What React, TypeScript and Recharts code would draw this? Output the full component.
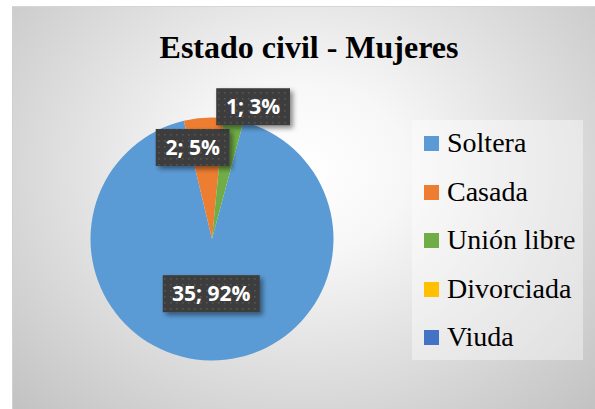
import React from 'react';
import { PieChart, Pie, Cell, Legend } from 'recharts';

const categories = ['Soltera', 'Casada', 'Unión libre', 'Divorciada', 'Viuda'];
const counts = [35, 2, 1, 0, 0];
const colors = ['#5B9BD5', '#ED7D31', '#70AD47', '#FFC000', '#4472C4'];
const title = 'Estado civil - Mujeres';

const data = categories.map((name, i) => ({ name, value: counts[i] }));

const W = 595;
const H = 409;
const RAD = Math.PI / 180;
const SERIF = '"Liberation Serif", "Times New Roman", Times, serif';

// label placement relative to each slice (radius factor, angular offset in degrees ccw)
const LABEL_LAYOUT = [
  { rf: 0.45, da: 0 },
  { rf: 0.77, da: 8 },
  { rf: 1.14, da: -7 },
  { rf: 1, da: 0 },
  { rf: 1, da: 0 },
];

const charW = (c: string) => {
  if (/[0-9]/.test(c)) return 11.6;
  if (c === ';') return 5.6;
  if (c === ' ') return 5.4;
  if (c === '%') return 17.6;
  return 11;
};

function renderLabel(props: any) {
  const { cx, cy, midAngle, outerRadius, percent, index, value } = props;
  if (!value) return null;
  const L = LABEL_LAYOUT[index] || { rf: 0.6, da: 0 };
  const a = (midAngle + L.da) * RAD;
  const r = outerRadius * L.rf;
  const x = cx + r * Math.cos(a);
  const y = cy - r * Math.sin(a);
  const text = `${value}; ${Math.round(percent * 100)}%`;
  const tw = text.split('').reduce((s, c) => s + charW(c), 0);
  const w = tw + 22;
  const h = 37;
  return (
    <g key={`lbl-${index}`}>
      <rect x={x - w / 2} y={y - h / 2} width={w} height={h} fill="url(#dots)" filter="url(#lblShadow)" />
      <text
        x={x}
        y={y}
        dy="0.36em"
        textAnchor="middle"
        fill="#ffffff"
        fontFamily="'Open Sans', sans-serif"
        fontWeight={700}
        fontSize={21}
      >
        {text}
      </text>
    </g>
  );
}

function renderLegend() {
  return (
    <div style={{ fontFamily: SERIF }}>
      {categories.map((name, i) => (
        <div
          key={`leg-${i}`}
          style={{ height: 48.5, display: 'flex', alignItems: 'center', whiteSpace: 'nowrap' }}
        >
          <div
            style={{
              width: 15,
              height: 15,
              background: colors[i],
              marginRight: 8,
              marginTop: 1,
              flex: 'none',
            }}
          />
          <span
            style={{
              fontFamily: SERIF,
              fontSize: 28,
              lineHeight: '48.5px',
              color: '#000',
            }}
          >
            {name}
          </span>
        </div>
      ))}
    </div>
  );
}

export default function App() {
  return (
    <div style={{ position: 'absolute', left: 0, top: 0, width: W, height: H, background: '#ffffff', overflow: 'hidden' }}>
      <style>{`.recharts-pie-sectors { filter: drop-shadow(0px 1px 5px rgba(0,0,0,0.16)); }`}</style>
      <div
        style={{
          position: 'absolute',
          left: 12,
          top: 6,
          width: W - 12,
          height: H - 6,
          background: 'radial-gradient(ellipse farthest-corner at 50% 40%, #ffffff 0%, #f7f7f7 25%, #c2c2c2 100%)',
          borderTop: '1px solid #d6d6d6',
          borderLeft: '1px solid #d0d0d0',
          boxSizing: 'border-box',
        }}
      />
      <div
        style={{
          position: 'absolute',
          left: 412,
          top: 120,
          width: 171,
          height: 240,
          background: 'rgba(255,255,255,0.4)',
        }}
      />
      <div
        style={{
          position: 'absolute',
          left: 109,
          top: 31,
          width: 400,
          textAlign: 'center',
          fontFamily: SERIF,
          fontWeight: 700,
          fontSize: 32,
          lineHeight: '32px',
          color: '#000',
          whiteSpace: 'nowrap',
        }}
      >
        {title}
      </div>
      <div style={{ position: 'absolute', left: 0, top: 0 }}>
        <PieChart width={W} height={H} margin={{ top: 0, right: 0, bottom: 0, left: 0 }}>
          <defs>
            <pattern id="dots" width="6" height="6" patternUnits="userSpaceOnUse">
              <rect width="6" height="6" fill="#3d3d3d" />
              <rect x="2" y="2" width="1.6" height="1.6" fill="#545454" />
            </pattern>
            <filter id="lblShadow" x="-20%" y="-30%" width="150%" height="170%">
              <feDropShadow dx="3" dy="3" stdDeviation="2.5" floodColor="#000" floodOpacity="0.45" />
            </filter>
          </defs>
          <Pie
            data={data}
            dataKey="value"
            nameKey="name"
            cx={212}
            cy={239}
            outerRadius={121.5}
            startAngle={75}
            endAngle={-285}
            stroke="none"
            labelLine={false}
            label={renderLabel}
            isAnimationActive={false}
          >
            {data.map((d, i) => (
              <Cell key={`cell-${i}`} fill={colors[i]} stroke="none" />
            ))}
          </Pie>
          <Legend
            layout="vertical"
            align="right"
            verticalAlign="top"
            content={renderLegend}
            wrapperStyle={{ left: 424, top: 119, width: 170 }}
          />
        </PieChart>
      </div>
    </div>
  );
}
